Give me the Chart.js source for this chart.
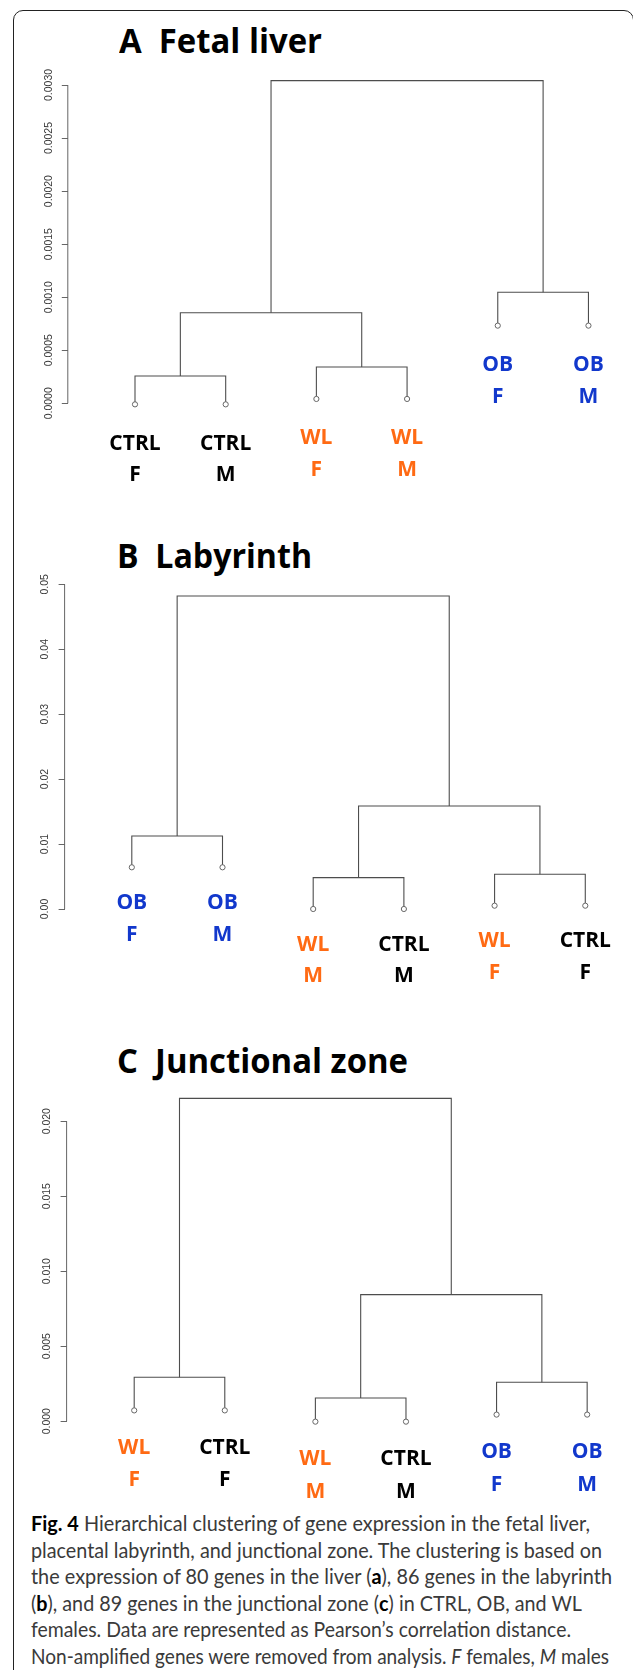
<!DOCTYPE html>
<html>
<head>
<meta charset="utf-8">
<script src="https://cdn.jsdelivr.net/npm/chart.js@4.4.1/dist/chart.umd.min.js"></script>
<style>
  html, body { margin: 0; padding: 0; background: #fff; }
  body { width: 633px; height: 1670px; position: relative; overflow: hidden; }
  .frame { position: absolute; left: 13px; top: 10px; width: 621px; height: 1720px; box-sizing: border-box;
           border: 1.6px solid #222; border-radius: 10px; }
  .title { position: absolute; font-family: "Open Sans", sans-serif; font-weight: 700; font-size: 34px;
           line-height: 34px; white-space: pre; color: #000; transform-origin: 0 50%; }
  canvas.panel { position: absolute; left: 0; }
  .caption { position: absolute; left: 30.5px; top: 1510px; font-family: Lato, sans-serif; font-size: 20.5px;
             line-height: 26.5px; color: #3a3a3a; }
  .caption div { white-space: nowrap; width: max-content; transform-origin: 0 50%; }
  .caption b { color: #000; }
</style>
</head>
<body>
<div class="frame"></div>

<div class="title fit" data-w="203" style="left:119px; top:23px;">A  Fetal liver</div>
<div class="title fit" data-w="195" style="left:117px; top:538px;">B  Labyrinth</div>
<div class="title fit" data-w="291" style="left:117px; top:1043px;">C  Junctional zone</div>

<canvas class="panel" id="liver" width="633" height="440" style="top:50px"></canvas>
<canvas class="panel" id="laby" width="633" height="440" style="top:560px"></canvas>
<canvas class="panel" id="junction" width="633" height="430" style="top:1070px"></canvas>

<div class="caption">
  <div class="fit" data-w="559"><b>Fig. 4</b> Hierarchical clustering of gene expression in the fetal liver,</div>
  <div class="fit" data-w="571">placental labyrinth, and junctional zone. The clustering is based on</div>
  <div class="fit" data-w="581">the expression of 80 genes in the liver (<b>a</b>), 86 genes in the labyrinth</div>
  <div class="fit" data-w="551">(<b>b</b>), and 89 genes in the junctional zone (<b>c</b>) in CTRL, OB, and WL</div>
  <div class="fit" data-w="540">females. Data are represented as Pearson’s correlation distance.</div>
  <div class="fit" data-w="578">Non-amplified genes were removed from analysis. <i>F</i> females, <i>M</i> males</div>
</div>

<script>
// ---- data (leaves listed in plotting order; merges as in R hclust: -i = leaf i, k = earlier merge k) ----
const liverGroups = ["CTRL", "CTRL", "WL", "WL", "OB", "OB"];
const liverSexes = ["F", "M", "F", "M", "F", "M"];
const liverLeafHeights = [-0.00001, -0.00001, 0.000041, 0.000041, 0.000732, 0.000732];
const liverMerges = [[-1, -2, 0.000258], [-3, -4, 0.000342], [1, 2, 0.000854], [-5, -6, 0.001046], [3, 4, 0.003041]];
const liverTicks = [0, 0.0005, 0.001, 0.0015, 0.002, 0.0025, 0.003];

const labyGroups = ["OB", "OB", "WL", "CTRL", "WL", "CTRL"];
const labySexes = ["F", "M", "M", "M", "F", "F"];
const labyLeafHeights = [0.00642, 0.00642, 0, 0, 0.00051, 0.00051];
const labyMerges = [[-1, -2, 0.01124], [-3, -4, 0.00483], [-5, -6, 0.00534], [2, 3, 0.01586], [1, 4, 0.0482]];
const labyTicks = [0, 0.01, 0.02, 0.03, 0.04, 0.05];

const junctionGroups = ["WL", "CTRL", "WL", "CTRL", "OB", "OB"];
const junctionSexes = ["F", "F", "M", "M", "F", "M"];
const junctionLeafHeights = [0.00072, 0.00072, -0.00003, -0.00003, 0.00044, 0.00044];
const junctionMerges = [[-1, -2, 0.00293], [-3, -4, 0.00155], [-5, -6, 0.0026], [2, 3, 0.00844], [1, 4, 0.02152]];
const junctionTicks = [0, 0.005, 0.01, 0.015, 0.02];

const groupColors = { CTRL: "#000000", WL: "#ff6a13", OB: "#1238cc" };

// fit title / caption lines to the widths measured on the figure
document.querySelectorAll(".fit").forEach(el => {
  const w = el.getBoundingClientRect().width;
  el.style.transform = "scaleX(" + (el.dataset.w / w) + ")";
});

// R-like axis line (first to last tick) and two-line leaf labels
const dendroPlugin = {
  id: "dendro",
  afterDatasetsDraw(chart, args, opts) {
    const ctx = chart.ctx;
    const xs = chart.scales.x, ys = chart.scales.y;
    const t = ys.ticks;
    ctx.save();
    ctx.strokeStyle = "#666";
    ctx.lineWidth = 1;
    ctx.beginPath();
    ctx.moveTo(ys.right, ys.getPixelForValue(t[0].value));
    ctx.lineTo(ys.right, ys.getPixelForValue(t[t.length - 1].value));
    ctx.stroke();

    const size = 21;
    ctx.font = "700 " + size + "px 'Open Sans'";
    ctx.textAlign = "center";
    ctx.textBaseline = "alphabetic";
    const cap = size * 0.714 / 2;
    opts.groups.forEach((g, i) => {
      const x = xs.getPixelForValue(i + 1);
      const y = ys.getPixelForValue(opts.heights[i]);
      ctx.fillStyle = groupColors[g];
      ctx.fillText(g, x, y + opts.gap1 + cap);
      ctx.fillText(opts.sexes[i], x, y + opts.gap1 + opts.gap2 + cap);
    });
    ctx.restore();
  }
};

function linkDatasets(leafHeights, merges) {
  const pos = [], hgt = [];
  const cx = c => (c < 0 ? -c : pos[c - 1]);
  const ch = c => (c < 0 ? leafHeights[-c - 1] : hgt[c - 1]);
  return merges.map(([a, b, h], k) => {
    const xa = cx(a), xb = cx(b);
    const d = [{ x: xa, y: ch(a) }, { x: xa, y: h }, { x: xb, y: h }, { x: xb, y: ch(b) }];
    pos[k] = (xa + xb) / 2;
    hgt[k] = h;
    return { data: d, showLine: true, borderColor: "#4d4d4d", borderWidth: 1.1, pointRadius: 0, tension: 0, fill: false };
  });
}

function makePanel(id, groups, sexes, leafHeights, merges, ticks, look) {
  const canvas = document.getElementById(id);
  const top = parseFloat(canvas.style.top), h = canvas.height;
  const k = (look.zeroY - look.topTickY) / ticks[ticks.length - 1];
  const yOf = v => look.zeroY - v * k;
  const xmin = 1 - (look.leaf0 - look.axisX) / look.step;
  const xmax = xmin + (633 - look.axisX) / look.step;

  const leaves = {
    data: leafHeights.map((v, i) => ({ x: i + 1, y: v })),
    showLine: false, pointRadius: 2.6, pointBorderWidth: 1,
    pointBorderColor: "#666", pointBackgroundColor: "#fff"
  };

  new Chart(canvas, {
    type: "scatter",
    data: { datasets: [leaves].concat(linkDatasets(leafHeights, merges)) },
    options: {
      responsive: false,
      animation: false,
      layout: { padding: { left: 0, right: 0, top: yOf(look.max) - top, bottom: top + h - yOf(look.min) } },
      scales: {
        x: { type: "linear", display: false, min: xmin, max: xmax },
        y: {
          type: "linear", min: look.min, max: look.max,
          afterBuildTicks: s => { s.ticks = ticks.map(v => ({ value: v })); },
          afterFit: s => { s.width = look.axisX; },
          border: { display: false },
          grid: { drawOnChartArea: false, drawTicks: true, tickLength: 6, color: "#666" },
          ticks: {
            autoSkip: false, minRotation: 90, maxRotation: 90, crossAlign: "center", padding: look.pad,
            color: "#3a3a3a", font: { family: "'Liberation Sans', Arial", size: 10.5 },
            callback: v => v.toFixed(look.dec)
          }
        }
      },
      plugins: {
        legend: { display: false },
        tooltip: { enabled: false },
        dendro: { groups: groups, sexes: sexes, heights: leafHeights, gap1: look.gap1, gap2: look.gap2 }
      }
    },
    plugins: [dendroPlugin]
  });
}

makePanel("liver", liverGroups, liverSexes, liverLeafHeights, liverMerges, liverTicks,
  { zeroY: 403.3, topTickY: 85, min: -0.0001, max: 0.0031, axisX: 67.8, leaf0: 135.6, step: 91.5,
    pad: -3, dec: 4, gap1: 38, gap2: 31.5 });
makePanel("laby", labyGroups, labySexes, labyLeafHeights, labyMerges, labyTicks,
  { zeroY: 909, topTickY: 584.3, min: -0.001, max: 0.0505, axisX: 64.6, leaf0: 132.4, step: 91.5,
    pad: 3, dec: 2, gap1: 34.3, gap2: 31.5 });
makePanel("junction", junctionGroups, junctionSexes, junctionLeafHeights, junctionMerges, junctionTicks,
  { zeroY: 1421.2, topTickY: 1121.2, min: -0.0003, max: 0.0218, axisX: 66.6, leaf0: 134.8, step: 91.4,
    pad: 0.5, dec: 3, gap1: 36, gap2: 32.5 });
</script>
</body>
</html>
